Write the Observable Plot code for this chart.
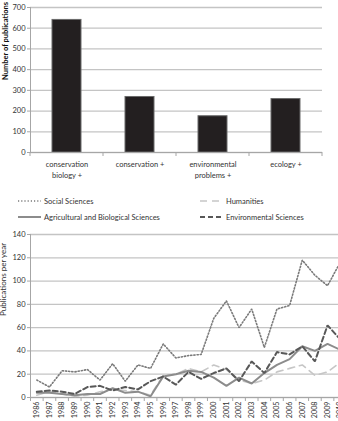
<!DOCTYPE html>
<html><head><meta charset="utf-8">
<script src="https://cdn.jsdelivr.net/npm/d3@7"></script>
<script src="https://cdn.jsdelivr.net/npm/@observablehq/plot@0.6"></script>
<style>
body{margin:0;background:#fff;}
#wrap{position:relative;width:338px;height:421px;overflow:hidden;font-family:Lato,sans-serif;background:#fff;}
#top,#legend,#bottom{position:absolute;left:0;}
#top{top:0}#legend{top:190px}#bottom{top:226px}
</style></head><body><div id="wrap"><div id="top"></div><div id="legend"></div><div id="bottom"></div></div>
<script>
// ---- data ----
const categories = ["conservation biology +", "conservation +", "environmental problems +", "ecology +"];
const categoryLabels = ["conservation\nbiology +", "conservation +", "environmental\nproblems +", "ecology +"];
const publications = [640, 268, 175, 258];
const topTicks = [0, 100, 200, 300, 400, 500, 600, 700];

const years = [1986,1987,1988,1989,1990,1991,1992,1993,1994,1995,1996,1997,1998,1999,2000,2001,2002,2003,2004,2005,2006,2007,2008,2009,2010];
const seriesNames = ["Social Sciences", "Humanities", "Agricultural and Biological Sciences", "Environmental Sciences"];
const socialSciences   = [15, 9, 23, 22, 24, 15, 29, 14, 28, 25, 46, 34, 36, 37, 68, 83, 60, 76, 43, 76, 79, 118, 105, 96, 116];
const humanities       = [2, 5, 3, 1, 2, 5, 7, 6, 5, 2, 19, 20, 25, 22, 28, 24, 15, 12, 15, 22, 25, 28, 19, 22, 30];
const agricultural     = [4, 4, 3, 2, 3, 3, 8, 4, 5, 1, 18, 20, 23, 22, 17, 10, 17, 12, 21, 28, 33, 44, 40, 46, 41];
const environmental    = [5, 6, 5, 3, 9, 10, 6, 9, 7, 14, 18, 11, 22, 16, 21, 25, 14, 31, 21, 39, 37, 44, 31, 62, 50];
const bottomTicks = [0, 20, 40, 60, 80, 100, 120, 140];

const seriesValues = [socialSciences, humanities, agricultural, environmental];
const seriesStyle = {
  "Social Sciences": {stroke: "#7a7a7a", width: 1.6, dash: "1.2,2"},
  "Humanities": {stroke: "#c6c6c6", width: 1.6, dash: "7,5"},
  "Agricultural and Biological Sciences": {stroke: "#8c8c8c", width: 2, dash: null},
  "Environmental Sciences": {stroke: "#585858", width: 2, dash: "5,3"}
};

const font = "Lato, sans-serif";

// ---- top bar chart ----
const barData = categories.map((c, i) => ({category: c, value: publications[i]}));
const labelOf = new Map(categories.map((c, i) => [c, categoryLabels[i]]));
const topW = 338, mL = 30, mR = 16;
const step = (topW - mL - mR) / categories.length;
const topChart = Plot.plot({
  width: topW, height: 185, marginTop: 7, marginBottom: 33, marginLeft: mL, marginRight: mR,
  style: {fontFamily: font, fontSize: "7.5px", color: "#333", background: "white"},
  x: {domain: categories, paddingInner: 0.6, paddingOuter: 0.3, label: null},
  y: {domain: [0, 700], label: null},
  marks: [
    Plot.gridY(topTicks, {stroke: "#c4c4c4", strokeOpacity: 1, strokeWidth: 1.3}),
    Plot.barY(barData, {x: "category", y: "value", fill: "#231f20", stroke: "#6a6a6a", strokeWidth: 1}),
    Plot.ruleY([0], {stroke: "#a6a6a6"}),
    Plot.frame({anchor: "left", stroke: "#a6a6a6"}),
    Plot.ruleX(categories, {x: d => d, y1: 0, y2: 0, dy: 0, stroke: "none"}),
    Plot.tickX(categories, {x: d => d, dx: -step / 2, stroke: "#a6a6a6", insetTop: 0}),
    Plot.axisY({ticks: topTicks, tickSize: 3, tickPadding: 2, stroke: "#a6a6a6", label: null, fill: "#333"}),
    Plot.axisX({tickSize: 0, tickPadding: 7, tickFormat: d => labelOf.get(d), lineHeight: 1.45, label: null, fill: "#333"}),
    Plot.text(["Number of publications"], {frameAnchor: "left", rotate: -90, dx: -25, fontWeight: "bold", fontSize: 7.5, fill: "#111"})
  ]
});
// replace the helper tick marks with short ticks below the axis
document.getElementById("top").appendChild(topChart);
{
  const svg = d3.select(topChart);
  const xs = categories.map(c => topChart.scale("x").apply(c));
  const bw = topChart.scale("x").bandwidth;
  const bounds = xs.map(x => x + bw / 2 - step / 2).concat([xs[xs.length - 1] + bw / 2 + step / 2]);
  const y0 = topChart.scale("y").apply(0);
  svg.selectAll("g[aria-label='tick']").remove();
  svg.append("g").selectAll("line").data(bounds).join("line")
    .attr("x1", d => d).attr("x2", d => d).attr("y1", y0).attr("y2", y0 + 4)
    .attr("stroke", "#a6a6a6");
}

// ---- legend ----
const leg = d3.select("#legend").append("svg").attr("width", 338).attr("height", 36)
  .style("font-family", font).style("font-size", "7.5px");
const legPos = [[18, 11], [200, 11], [18, 27], [200, 27]];
seriesNames.forEach((name, i) => {
  const [x, y] = legPos[i];
  const st = seriesStyle[name];
  leg.append("line").attr("x1", x).attr("x2", x + 23).attr("y1", y).attr("y2", y)
    .attr("stroke", st.stroke).attr("stroke-width", st.width)
    .attr("stroke-dasharray", st.dash);
  leg.append("text").attr("x", x + 26).attr("y", y).attr("dy", "0.35em").attr("fill", "#333").text(name);
});

// ---- bottom line chart ----
const lineData = [];
seriesNames.forEach((name, s) => years.forEach((yr, i) => lineData.push({series: name, year: yr, value: seriesValues[s][i]})));
const bounds2 = years.map(y => y - 0.5).concat([years[years.length - 1] + 0.5]);
const bottomChart = Plot.plot({
  width: 338, height: 195, marginTop: 8, marginBottom: 24, marginLeft: 30, marginRight: 0,
  style: {fontFamily: font, fontSize: "7.5px", color: "#333", background: "white"},
  x: {type: "linear", domain: [years[0] - 0.5, years[years.length - 1] + 0.5], range: [30, 346], label: null},
  y: {domain: [0, 140], label: null},
  marks: [
    Plot.gridY(bottomTicks, {stroke: "#c4c4c4", strokeOpacity: 1, strokeWidth: 1.3}),
    Plot.ruleY([0], {stroke: "#a6a6a6"}),
    Plot.ruleX([years[0] - 0.5], {stroke: "#a6a6a6"}),
    ...seriesNames.map(name => Plot.line(lineData.filter(d => d.series === name), {
      x: "year", y: "value", stroke: seriesStyle[name].stroke, strokeWidth: seriesStyle[name].width,
      strokeDasharray: seriesStyle[name].dash, strokeLinejoin: "miter"
    })),
    Plot.axisY({ticks: bottomTicks, tickSize: 3, tickPadding: 2, stroke: "#a6a6a6", label: null, fill: "#333"}),
    Plot.axisX({ticks: bounds2, tickSize: 4, tickFormat: () => "", stroke: "#a6a6a6", label: null}),
    Plot.axisX({ticks: years, tickSize: 0, tickPadding: 4, tickRotate: -90, tickFormat: d => String(d), label: null, fill: "#333", fontSize: 7.2}),
    Plot.text(["Publications per year"], {frameAnchor: "left", rotate: -90, dx: -27, fontSize: 8, fill: "#333"})
  ]
});
document.getElementById("bottom").appendChild(bottomChart);
</script></body></html>
